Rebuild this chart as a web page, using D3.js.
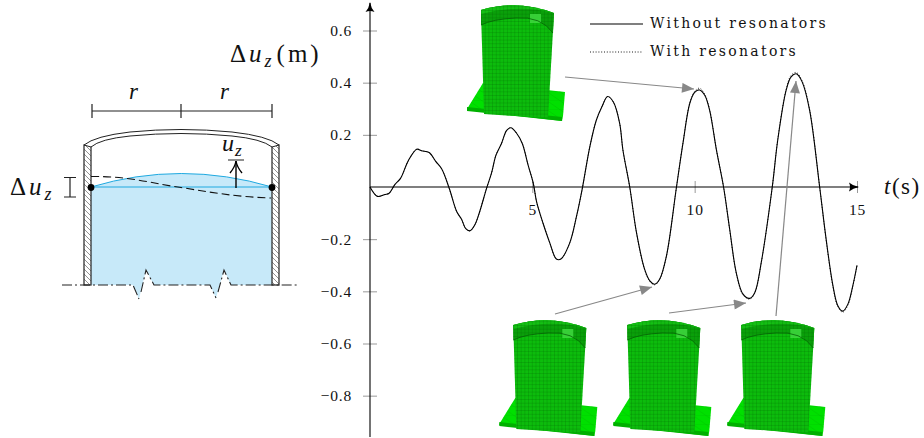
<!DOCTYPE html>
<html><head><meta charset="utf-8">
<script src="https://cdn.jsdelivr.net/npm/d3@7"></script>
<style>html,body{margin:0;padding:0;background:#fff}svg{display:block}text{font-family:"Liberation Serif","DejaVu Serif",serif;fill:#111}</style>
</head><body><svg id="c" width="924" height="438"></svg>
<script>
const times=[0,.23,.46,.59,.77,.94,1.18,1.44,1.59,1.82,2.03,2.21,2.44,2.67,2.82,2.95,3.08,3.23,3.38,3.59,3.74,3.88,4.05,4.21,4.34,4.51,4.69,4.87,5.03,5.13,5.33,5.54,5.74,5.88,6.15,6.36,6.54,6.77,6.97,7.15,7.32,7.5,7.69,7.79,8,8.21,8.46,8.62,8.77,8.92,9.13,9.44,9.64,9.85,10,10.15,10.31,10.46,10.67,10.89,11.08,11.28,11.49,11.69,11.85,12.05,12.39,12.56,12.82,12.97,13.13,13.31,13.54,13.85,14.05,14.26,14.41,14.56,14.72,14.87,15];
const withoutResonators=[0,-.036,-.029,-.024,.01,.033,.101,.145,.139,.132,.097,.069,-.005,-.094,-.124,-.16,-.168,-.145,-.094,-.005,.052,.122,.167,.217,.227,.207,.167,.084,.014,-.056,-.139,-.215,-.276,-.276,-.215,-.113,-.005,.154,.256,.31,.347,.325,.244,.142,0,-.176,-.316,-.36,-.373,-.354,-.265,0,.168,.321,.363,.372,.352,.295,.142,0,-.163,-.328,-.411,-.427,-.405,-.29,0,.181,.372,.422,.434,.403,.295,0,-.201,-.379,-.455,-.476,-.449,-.379,-.3];
const withResonators=[0,-.036,-.029,-.024,.01,.033,.101,.145,.139,.132,.097,.069,-.005,-.094,-.124,-.16,-.168,-.145,-.094,-.005,.052,.122,.167,.217,.227,.207,.167,.084,.014,-.056,-.139,-.215,-.276,-.276,-.215,-.113,-.005,.154,.256,.31,.347,.325,.244,.142,0,-.177,-.318,-.362,-.375,-.355,-.265,0,.17,.323,.367,.379,.356,.297,.143,0,-.165,-.33,-.414,-.43,-.407,-.291,0,.184,.376,.428,.439,.407,.298,0,-.204,-.383,-.459,-.48,-.453,-.382,-.302];
const xTicks=[5,10,15];
const yTicks=[.6,.4,.2,-.2,-.4,-.6,-.8];
const legendLabels=["Without resonators","With resonators"];

const svg=d3.select("#c");
const x=d3.scaleLinear().domain([0,15]).range([370,857]);
const y=d3.scaleLinear().domain([0,.6]).range([187,30.5]);
const defs=svg.append("defs");
defs.append("marker").attr("id","g").attr("markerUnits","userSpaceOnUse").attr("viewBox","0 0 12 10").attr("refX",12).attr("refY",5).attr("markerWidth",14).attr("markerHeight",10).attr("orient","auto").append("path").attr("d","M0,0L12,5L0,10Z").attr("fill","#888");
defs.append("marker").attr("id","k").attr("markerUnits","userSpaceOnUse").attr("viewBox","0 0 10 10").attr("refX",9).attr("refY",5).attr("markerWidth",10).attr("markerHeight",10).attr("orient","auto").append("path").attr("d","M0,0.5Q4,4 10,5Q4,6 0,9.5Q2,5 0,.5Z").attr("fill","#000");
defs.append("marker").attr("id","o").attr("markerUnits","userSpaceOnUse").attr("viewBox","0 0 14 14").attr("refX",13).attr("refY",7).attr("markerWidth",14).attr("markerHeight",14).attr("orient","auto").append("path").attr("d","M1,1Q7,6 13,7Q7,8 1,13").attr("fill","none").attr("stroke","#000").attr("stroke-width",1.4);
const hp=defs.append("pattern").attr("id","hatch").attr("patternUnits","userSpaceOnUse").attr("width",5).attr("height",5);
hp.append("path").attr("d","M-1,-1L6,6M-1,4L1,6M4,-1L6,1").attr("stroke","#777").attr("stroke-width",.8);
const mp=defs.append("pattern").attr("id","mesh").attr("patternUnits","userSpaceOnUse").attr("width",3.7).attr("height",3.7);
mp.append("path").attr("d","M0,0H3.7M0,0V3.7").attr("stroke","#005a00").attr("stroke-opacity",.5).attr("stroke-width",.8).attr("fill","none");
const bp=defs.append("pattern").attr("id","meshBase").attr("patternUnits","userSpaceOnUse").attr("width",13).attr("height",9);
bp.append("path").attr("d","M0,0H13M0,0L13,9").attr("stroke","#00b800").attr("stroke-opacity",.5).attr("stroke-width",.7).attr("fill","none");

/* FE tank illustration */
function tank(ox,oy){
 const g=svg.append("g").attr("transform",`translate(${ox},${oy})`);
 const base="M-14,99L2,73L84,82L82,106L81,111L-14,100Z";
 g.append("path").attr("d",base).attr("fill","#00e000");
 g.append("path").attr("d",base).attr("fill","url(#meshBase)");
 g.append("path").attr("d","M-14,97L81,107L81,111L-14,101Z").attr("fill","#00b000");
 const body="M0,0Q36,-11 73,3L67,108L3,104Z";
 g.append("path").attr("d",body).attr("fill","#0cbc0c");
 g.append("path").attr("d",body).attr("fill","url(#mesh)");
 const band="M0,0Q36,-11 73,3L72,23Q60,6 35,8Q12,9 0,15Z";
 g.append("path").attr("d",band).attr("fill","#0aa00a");
 g.append("path").attr("d","M0,0Q36,-11 73,3Q37,-6 0,4Z").attr("fill","#14c014");
 g.append("path").attr("d",band).attr("fill","url(#mesh)");
 g.append("rect").attr("x",49).attr("y",4).attr("width",11).attr("height",9).attr("fill","#40d840").attr("opacity",.85);
 g.append("path").attr("d","M0,15Q12,9 35,8Q60,6 72,23").attr("fill","none").attr("stroke","#066006").attr("stroke-width",.8);
}
tank(481,10);tank(513.3,325);tank(627.3,325);tank(741.3,325);

/* axes */
const yAxis=d3.axisLeft(y).tickValues(yTicks).tickSize(7).tickPadding(11).tickFormat(d=>d3.format(".1f")(d).replace("-","\u2212"));
const gy=svg.append("g").attr("transform","translate(370,0)").call(yAxis);
const xAxis=d3.axisBottom(x).tickValues(xTicks).tickSize(6).tickPadding(11).tickFormat(d3.format("d"));
const gx=svg.append("g").attr("transform","translate(0,187)").call(xAxis);
gy.select(".domain").remove();gx.select(".domain").remove();
gy.selectAll("line").attr("x1",7).attr("x2",-7).attr("stroke","#999");
gx.selectAll("line").attr("y1",-6).attr("y2",6).attr("stroke","#999");
[gy,gx].forEach(g=>g.selectAll("text").attr("font-size",15.5).attr("letter-spacing",.8).attr("fill","#222").style("font-family",'"Liberation Serif"'));
svg.append("line").attr("x1",370).attr("x2",370).attr("y1",437).attr("y2",3).attr("stroke","#000").attr("stroke-width",1.1).attr("marker-end","url(#k)");
svg.append("line").attr("x1",370).attr("x2",858).attr("y1",187).attr("y2",187).attr("stroke","#000").attr("stroke-width",1.1).attr("marker-end","url(#k)");

/* series */
const line=d3.line().x((d,i)=>x(times[i])).y(d=>y(d)).curve(d3.curveCatmullRom.alpha(.5));
svg.append("path").attr("d",line(withoutResonators)).attr("fill","none").attr("stroke","#000").attr("stroke-width",1.1);
svg.append("path").attr("d",line(withResonators)).attr("fill","none").attr("stroke","#000").attr("stroke-width",.8).attr("stroke-dasharray","1 1.8");

/* legend */
legendLabels.forEach((t,i)=>{
 const ly=[24,52][i];
 const l=svg.append("line").attr("x1",590).attr("x2",643).attr("y1",ly).attr("y2",ly).attr("stroke","#000").attr("stroke-width",i?.9:1.1);
 if(i)l.attr("stroke-dasharray","1 1.8");
 svg.append("text").attr("x",650).attr("y",ly+4).attr("font-size",14).attr("letter-spacing",2.3).style("font-family",'"DejaVu Serif"').attr("fill","#222").text(t);
});

/* leader arrows */
[[565,77,694,89],[555,314,652,287],[669,313,746,303],[776,316,796,81]].forEach(a=>
 svg.append("line").attr("x1",a[0]).attr("y1",a[1]).attr("x2",a[2]).attr("y2",a[3]).attr("stroke","#888").attr("stroke-width",1.2).attr("marker-end","url(#g)"));

/* axis titles */
function math(xp,yp,size,parts,ls){
 const t=svg.append("text").attr("x",xp).attr("y",yp).attr("font-size",size).attr("letter-spacing",ls||0);
 parts.forEach(([s,st])=>{const ts=t.append("tspan").text(s);
  if(st=="i")ts.attr("font-style","italic");
  if(st=="sub"){ts.attr("font-style","italic").attr("font-size",size*.72).attr("dy",size*.2);}
  if(st=="up"){ts.attr("dy",-size*.2).attr("dx",2);}
 });
 return t;
}
math(230,62,25,[["\u0394",""],["u","i"],["z","sub"],["(m)","up"]],3);
math(884,194,23,[["t","i"],["(s)",""]],1.5);

/* left schematic */
const d=svg.append("g");
const water="M91,187Q181,160 272,187V285H231L224,270L216,298L210,285H154L146,270L139,299L133,285H91Z";
d.append("path").attr("d",water).attr("fill","#c7e9f9");
d.append("path").attr("d","M91,187Q181,160 272,187M91,187H272").attr("fill","none").attr("stroke","#1fa9e0").attr("stroke-width",1);
[[84,91],[272,279]].forEach(([a,b])=>{
 d.append("rect").attr("x",a).attr("y",145).attr("width",b-a).attr("height",140).attr("fill","#fff");
 d.append("rect").attr("x",a).attr("y",145).attr("width",b-a).attr("height",140).attr("fill","url(#hatch)").attr("stroke","#333").attr("stroke-width",1.3);
});
d.append("path").attr("d","M84,145Q95,136 130,132Q181,127 232,132Q268,136 279,145L272,147Q262,139 232,136Q181,131 130,136Q100,139 91,147Z").attr("fill","#fff").attr("stroke","#222").attr("stroke-width",1);
d.append("path").attr("d","M91,176.5C130,176 155,184 181,187.5C210,192 235,197 271,198").attr("fill","none").attr("stroke","#111").attr("stroke-width",1.1).attr("stroke-dasharray","8 4");
d.selectAll("circle.n").data([91,272]).join("circle").attr("cx",v=>v).attr("cy",187.5).attr("r",3.4).attr("fill","#000");
d.append("path").attr("d","M92,104V118M92,111H272M181,104V118M272,104V118M64,177.5H76M70,177.5V197M64,197H76M228,160H244").attr("fill","none").attr("stroke","#222").attr("stroke-width",1.2);
d.append("line").attr("x1",236).attr("x2",236).attr("y1",188).attr("y2",161).attr("stroke","#000").attr("stroke-width",1.4).attr("marker-end","url(#o)");
d.append("path").attr("d","M62,285H133L139,299M141,292L146,270L154,285H210L216,298M218,292L224,270L231,285H297").attr("fill","none").attr("stroke","#222").attr("stroke-width",1.1).attr("stroke-dasharray","10 3 2 3");
math(129,99,23,[["r","i"]]);
math(220,99,23,[["r","i"]]);
math(222,151,24,[["u","i"],["z","sub"]],1);
math(10,195,25,[["\u0394",""],["u","i"],["z","sub"]],3);
</script></body></html>
